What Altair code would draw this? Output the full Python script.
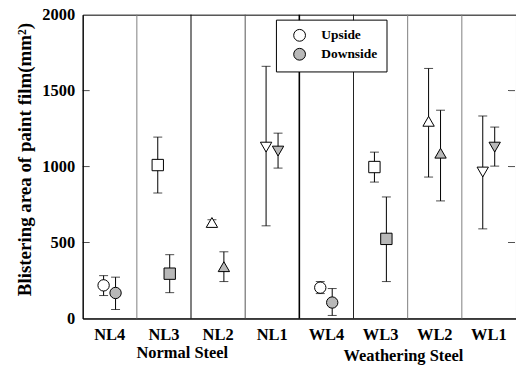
import altair as alt
import pandas as pd

cats = ["NL4", "NL3", "NL2", "NL1", "WL4", "WL3", "WL2", "WL1"]
shapes = ["circle", "square", "triangle-up", "triangle-down"] * 2
sides = ["Upside", "Downside"]

up_val = [218, 1010, 632, 1128, 203, 997, 1298, 964]
up_lo = [151, 826, 614, 610, 164, 898, 931, 590]
up_hi = [282, 1194, 650, 1660, 243, 1095, 1646, 1333]
dn_val = [168, 295, 341, 1102, 105, 524, 1088, 1128]
dn_lo = [59, 170, 243, 990, 20, 243, 774, 1003]
dn_hi = [272, 420, 439, 1220, 197, 800, 1371, 1260]

y_ticks = [0, 500, 1000, 1500, 2000]
inner_ticks = [500, 1000, 1500]
groups = ["Normal Steel", "Weathering Steel"]

divider_cats = cats[1:]
divider_colors = ["#808080", "#000000", "#555555", "#000000", "#222222", "#808080", "#808080"]
divider_widths = [1, 1, 1, 1.6, 1, 1, 1]

rows = []
for i, c in enumerate(cats):
    rows.append(dict(cat=c, side="Upside", val=up_val[i], lo=up_lo[i], hi=up_hi[i]))
    rows.append(dict(cat=c, side="Downside", val=dn_val[i], lo=dn_lo[i], hi=dn_hi[i]))
df = pd.DataFrame(rows)

div_df = pd.DataFrame({"cat": divider_cats, "color": divider_colors, "w": divider_widths})
tick_df = pd.DataFrame({"v": inner_ticks})

W, H = 435, 305
FONT = "Liberation Serif"
YTITLE = "Blistering area of paint film(mm²)"

xscale = alt.Scale(domain=cats, paddingInner=0, paddingOuter=0)
yscale = alt.Scale(domain=[0, 2000], nice=False)
xoff = alt.XOffset("side:N", scale=alt.Scale(type="point", domain=sides, range=[21, 33], padding=0))

x_axis = alt.Axis(title=None, labelAngle=0, ticks=False, labelPadding=8)
y_axis = alt.Axis(title=YTITLE, values=y_ticks, format="d", ticks=False, grid=False,
                  labelPadding=8, titlePadding=7, titleY=145)


def X(**kw):
    return alt.X("cat:N", scale=xscale, sort=cats, axis=x_axis, **kw)


def Y(field):
    return alt.Y(field, scale=yscale, axis=y_axis, title=YTITLE)


base = alt.Chart(df)

err = base.mark_rule(color="black", strokeWidth=1).encode(
    x=X(), xOffset=xoff, y=Y("lo:Q"), y2="hi:Q",
)

dividers = alt.Chart(div_df).mark_rule().encode(
    x=X(bandPosition=0),
    y=alt.value(0), y2=alt.value(H),
    color=alt.Color("color:N", scale=None),
    strokeWidth=alt.StrokeWidth("w:Q", scale=None),
)

cap_lo = base.mark_tick(color="black", orient="horizontal", size=9, thickness=1).encode(
    x=X(), xOffset=xoff, y=Y("lo:Q"))
cap_hi = base.mark_tick(color="black", orient="horizontal", size=9, thickness=1).encode(
    x=X(), xOffset=xoff, y=Y("hi:Q"))

points = base.mark_point(filled=False, stroke="black", strokeWidth=1, opacity=1, size=130).encode(
    x=X(), xOffset=xoff, y=Y("val:Q"),
    shape=alt.Shape("cat:N", scale=alt.Scale(domain=cats, range=shapes), legend=None),
    fill=alt.Fill("side:N", scale=alt.Scale(domain=sides, range=["white", "#b8b8b8"]),
                  legend=alt.Legend(title=None, orient="none", legendX=194, legendY=5,
                                    strokeColor="black", fillColor="white", padding=9,
                                    symbolSize=140, symbolStrokeColor="black",
                                    symbolStrokeWidth=1, symbolOpacity=1, symbolOffset=8,
                                    labelFont=FONT, labelFontSize=13.5, labelFontWeight="bold",
                                    labelColor="black", rowPadding=2, labelOffset=15,
                                    offset=0)),
)

left_ticks = alt.Chart(tick_df).mark_tick(color="black", orient="horizontal", size=7, thickness=1).encode(
    x=alt.value(3.5), y=Y("v:Q"))
right_ticks = alt.Chart(tick_df).mark_tick(color="black", orient="horizontal", size=7, thickness=1).encode(
    x=alt.value(W - 4.5), y=Y("v:Q"))

g1 = alt.Chart(pd.DataFrame({"g": [groups[0]]})).mark_text(
    font=FONT, fontSize=16.5, fontWeight="bold", color="black").encode(
    text="g:N", x=alt.value(100), y=alt.value(340))
g2 = alt.Chart(pd.DataFrame({"g": [groups[1]]})).mark_text(
    font=FONT, fontSize=16.5, fontWeight="bold", color="black").encode(
    text="g:N", x=alt.value(322), y=alt.value(343))

chart = alt.layer(err, dividers, cap_lo, cap_hi, points, left_ticks, right_ticks, g1, g2).properties(
    width=W, height=H,
    background="white",
    autosize=alt.AutoSizeParams(type="none"),
    padding={"left": 83, "top": 14, "right": 0, "bottom": 51},
).configure_view(
    stroke="black", strokeWidth=1
).configure_axis(
    labelFont=FONT, labelFontSize=16.5, labelFontWeight="bold", labelColor="black",
    titleFont=FONT, titleFontSize=19, titleFontWeight="bold", titleColor="black",
    domainColor="black", grid=False, ticks=False,
)

chart.save("out.html", embed_options={"renderer": "svg", "actions": False})
